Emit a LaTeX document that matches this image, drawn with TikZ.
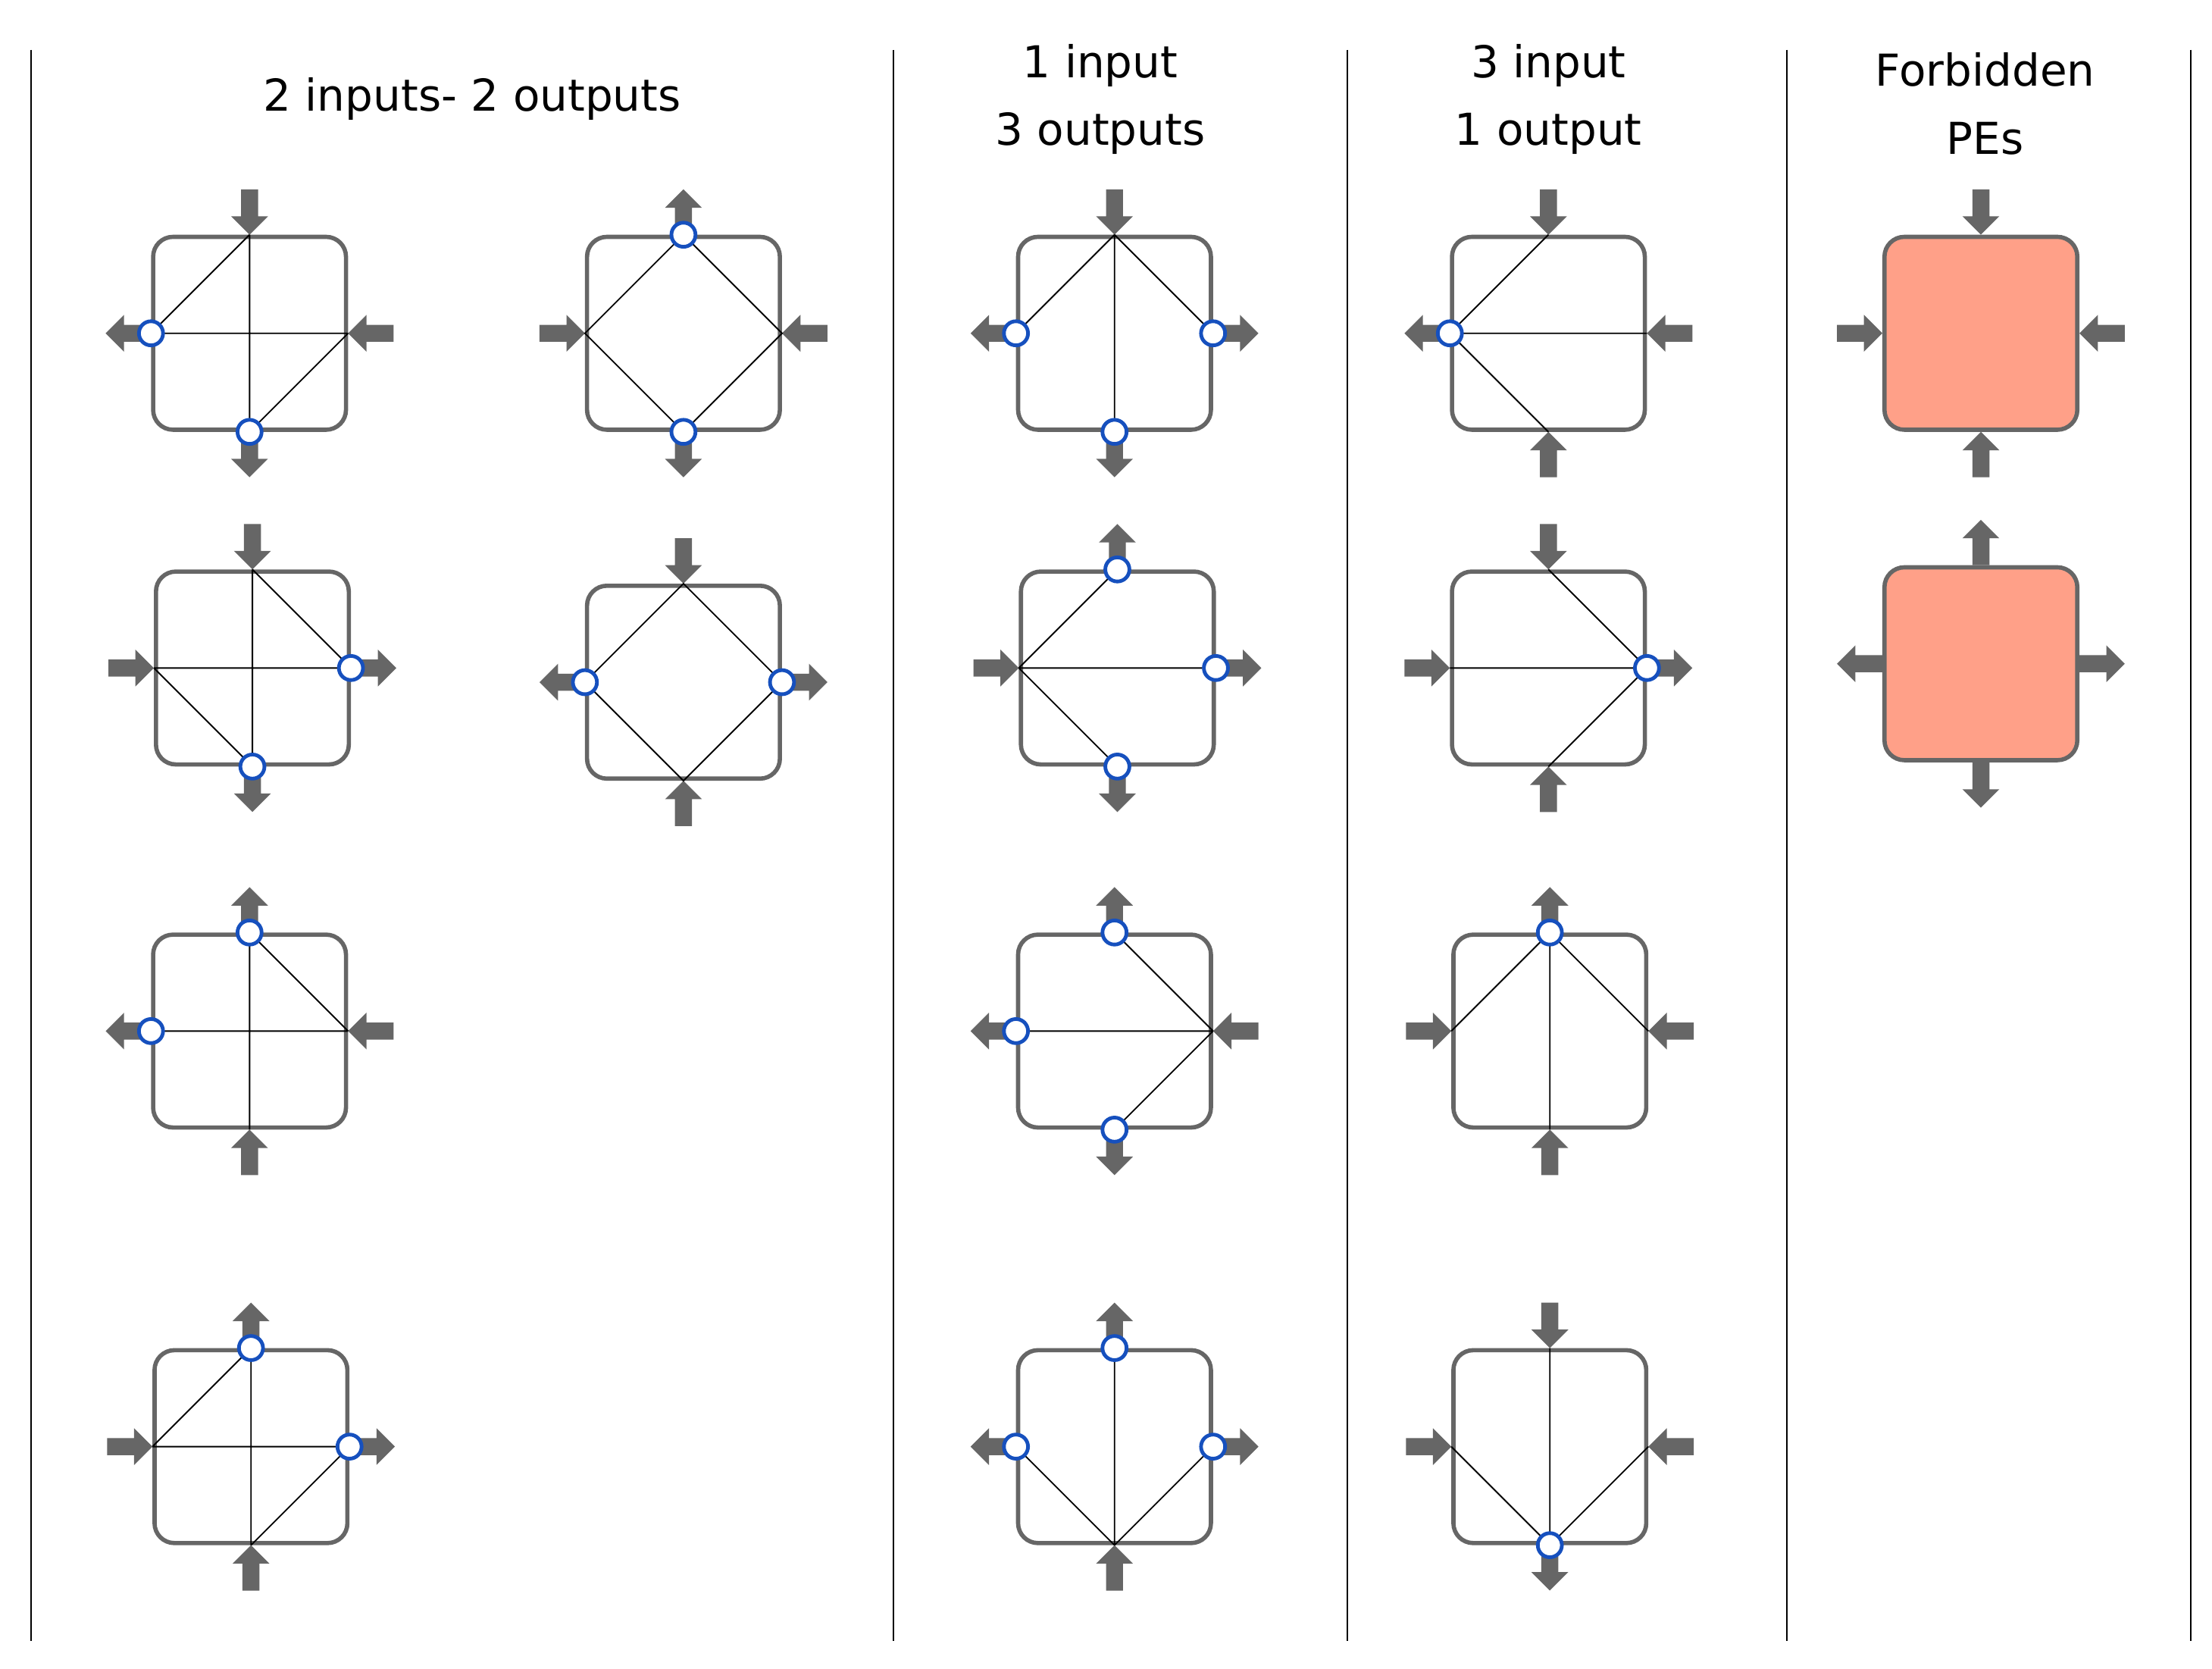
\documentclass[tikz,border=0pt]{standalone}
\usepackage{fontspec}
\setmainfont{DejaVu Sans}
\definecolor{peg}{HTML}{666666}
\definecolor{portblue}{HTML}{1650BE}
\definecolor{salmon}{HTML}{FFA088}
\begin{document}
\begin{tikzpicture}[x=1pt, y=-1pt,
  pe/.style={draw=peg, line width=3pt, rounded corners=14pt, minimum size=136pt, inner sep=0pt},
  bad/.style={pe, fill=salmon},
  port/.style={circle, draw=portblue, fill=white, line width=2.6pt, minimum size=17pt, inner sep=0pt},
  wire/.style={black, line width=1pt},
  sep/.style={black, line width=1pt},
  head/.style={font=\fontsize{31}{48}\selectfont, align=center},
  pin/.pic={\fill[peg] (32,-6) -- (13,-6) -- (13,-13) -- (0,0) -- (13,13) -- (13,6) -- (32,6) -- cycle;},
  pout/.pic={\fill[peg] (0,-6) -- (19,-6) -- (19,-13) -- (32,0) -- (19,13) -- (19,6) -- (0,6) -- cycle;}]
\useasboundingbox (0,0) rectangle (1560,1176.3);

% column separators
\foreach \x in {22,630,950,1260,1545}
  \draw[sep] (\x,35) -- (\x,1157);

% headings
\node[head] (h1) at (333,70) {2 inputs- 2 outputs};
\node[head] (h2) at (776,70) {1 input\\3 outputs};
\node[head] (h3) at (1092,70) {3 input\\1 output};
\node[head] (h4) at (1400,73) {Forbidden\\PEs};

% 2 inputs - 2 outputs
\node[pe] (a1) at (176,235) {};
\pic[rotate=90] at (a1.north) {pin};
\pic at (a1.east) {pin};
\pic[rotate=180] at (a1.west) {pout};
\pic[rotate=270] at (a1.south) {pout};
\draw[wire] (a1.north) -- (a1.west) (a1.north) -- (a1.south) (a1.west) -- (a1.east) (a1.east) -- (a1.south);
\node[port] at (a1.west) {};
\node[port] at (a1.south) {};

\node[pe] (b1) at (482,235) {};
\pic[rotate=90] at (b1.north) {pout};
\pic at (b1.east) {pin};
\pic[rotate=180] at (b1.west) {pin};
\pic[rotate=270] at (b1.south) {pout};
\draw[wire] (b1.west) -- (b1.north) -- (b1.east) -- (b1.south) -- cycle;
\node[port] at (b1.north) {};
\node[port] at (b1.south) {};

\node[pe] (a2) at (178,471) {};
\pic[rotate=90] at (a2.north) {pin};
\pic at (a2.east) {pout};
\pic[rotate=180] at (a2.west) {pin};
\pic[rotate=270] at (a2.south) {pout};
\draw[wire] (a2.north) -- (a2.east) (a2.north) -- (a2.south) (a2.west) -- (a2.east) (a2.west) -- (a2.south);
\node[port] at (a2.east) {};
\node[port] at (a2.south) {};

\node[pe] (b2) at (482,481) {};
\pic[rotate=90] at (b2.north) {pin};
\pic at (b2.east) {pout};
\pic[rotate=180] at (b2.west) {pout};
\pic[rotate=270] at (b2.south) {pin};
\draw[wire] (b2.west) -- (b2.north) -- (b2.east) -- (b2.south) -- cycle;
\node[port] at (b2.west) {};
\node[port] at (b2.east) {};

\node[pe] (a3) at (176,727) {};
\pic[rotate=90] at (a3.north) {pout};
\pic at (a3.east) {pin};
\pic[rotate=180] at (a3.west) {pout};
\pic[rotate=270] at (a3.south) {pin};
\draw[wire] (a3.north) -- (a3.east) (a3.north) -- (a3.south) (a3.west) -- (a3.east);
\node[port] at (a3.north) {};
\node[port] at (a3.west) {};

\node[pe] (a4) at (177,1020) {};
\pic[rotate=90] at (a4.north) {pout};
\pic at (a4.east) {pout};
\pic[rotate=180] at (a4.west) {pin};
\pic[rotate=270] at (a4.south) {pin};
\draw[wire] (a4.west) -- (a4.north) (a4.north) -- (a4.south) (a4.west) -- (a4.east) (a4.south) -- (a4.east);
\node[port] at (a4.north) {};
\node[port] at (a4.east) {};

% 1 input - 3 outputs
\node[pe] (c1) at (786,235) {};
\pic[rotate=90] at (c1.north) {pin};
\pic at (c1.east) {pout};
\pic[rotate=180] at (c1.west) {pout};
\pic[rotate=270] at (c1.south) {pout};
\draw[wire] (c1.north) -- (c1.west) (c1.north) -- (c1.south) (c1.north) -- (c1.east);
\node[port] at (c1.west) {};
\node[port] at (c1.south) {};
\node[port] at (c1.east) {};

\node[pe] (c2) at (788,471) {};
\pic[rotate=90] at (c2.north) {pout};
\pic at (c2.east) {pout};
\pic[rotate=180] at (c2.west) {pin};
\pic[rotate=270] at (c2.south) {pout};
\draw[wire] (c2.west) -- (c2.north) (c2.west) -- (c2.east) (c2.west) -- (c2.south);
\node[port] at (c2.north) {};
\node[port] at (c2.east) {};
\node[port] at (c2.south) {};

\node[pe] (c3) at (786,727) {};
\pic[rotate=90] at (c3.north) {pout};
\pic at (c3.east) {pin};
\pic[rotate=180] at (c3.west) {pout};
\pic[rotate=270] at (c3.south) {pout};
\draw[wire] (c3.east) -- (c3.north) (c3.east) -- (c3.west) (c3.east) -- (c3.south);
\node[port] at (c3.north) {};
\node[port] at (c3.west) {};
\node[port] at (c3.south) {};

\node[pe] (c4) at (786,1020) {};
\pic[rotate=90] at (c4.north) {pout};
\pic at (c4.east) {pout};
\pic[rotate=180] at (c4.west) {pout};
\pic[rotate=270] at (c4.south) {pin};
\draw[wire] (c4.south) -- (c4.west) (c4.south) -- (c4.north) (c4.south) -- (c4.east);
\node[port] at (c4.north) {};
\node[port] at (c4.west) {};
\node[port] at (c4.east) {};

% 3 input - 1 output
\node[pe] (d1) at (1092,235) {};
\pic[rotate=90] at (d1.north) {pin};
\pic at (d1.east) {pin};
\pic[rotate=180] at (d1.west) {pout};
\pic[rotate=270] at (d1.south) {pin};
\draw[wire] (d1.west) -- (d1.north) (d1.west) -- (d1.east) (d1.west) -- (d1.south);
\node[port] at (d1.west) {};

\node[pe] (d2) at (1092,471) {};
\pic[rotate=90] at (d2.north) {pin};
\pic at (d2.east) {pout};
\pic[rotate=180] at (d2.west) {pin};
\pic[rotate=270] at (d2.south) {pin};
\draw[wire] (d2.east) -- (d2.north) (d2.east) -- (d2.west) (d2.east) -- (d2.south);
\node[port] at (d2.east) {};

\node[pe] (d3) at (1093,727) {};
\pic[rotate=90] at (d3.north) {pout};
\pic at (d3.east) {pin};
\pic[rotate=180] at (d3.west) {pin};
\pic[rotate=270] at (d3.south) {pin};
\draw[wire] (d3.north) -- (d3.west) (d3.north) -- (d3.south) (d3.north) -- (d3.east);
\node[port] at (d3.north) {};

\node[pe] (d4) at (1093,1020) {};
\pic[rotate=90] at (d4.north) {pin};
\pic at (d4.east) {pin};
\pic[rotate=180] at (d4.west) {pin};
\pic[rotate=270] at (d4.south) {pout};
\draw[wire] (d4.south) -- (d4.west) (d4.south) -- (d4.north) (d4.south) -- (d4.east);
\node[port] at (d4.south) {};

% forbidden PEs
\node[bad] (e1) at (1397,235) {};
\pic[rotate=90] at (e1.north) {pin};
\pic at (e1.east) {pin};
\pic[rotate=180] at (e1.west) {pin};
\pic[rotate=270] at (e1.south) {pin};

\node[bad] (e2) at (1397,468) {};
\pic[rotate=90] at (e2.north) {pout};
\pic at (e2.east) {pout};
\pic[rotate=180] at (e2.west) {pout};
\pic[rotate=270] at (e2.south) {pout};
\end{tikzpicture}
\end{document}
